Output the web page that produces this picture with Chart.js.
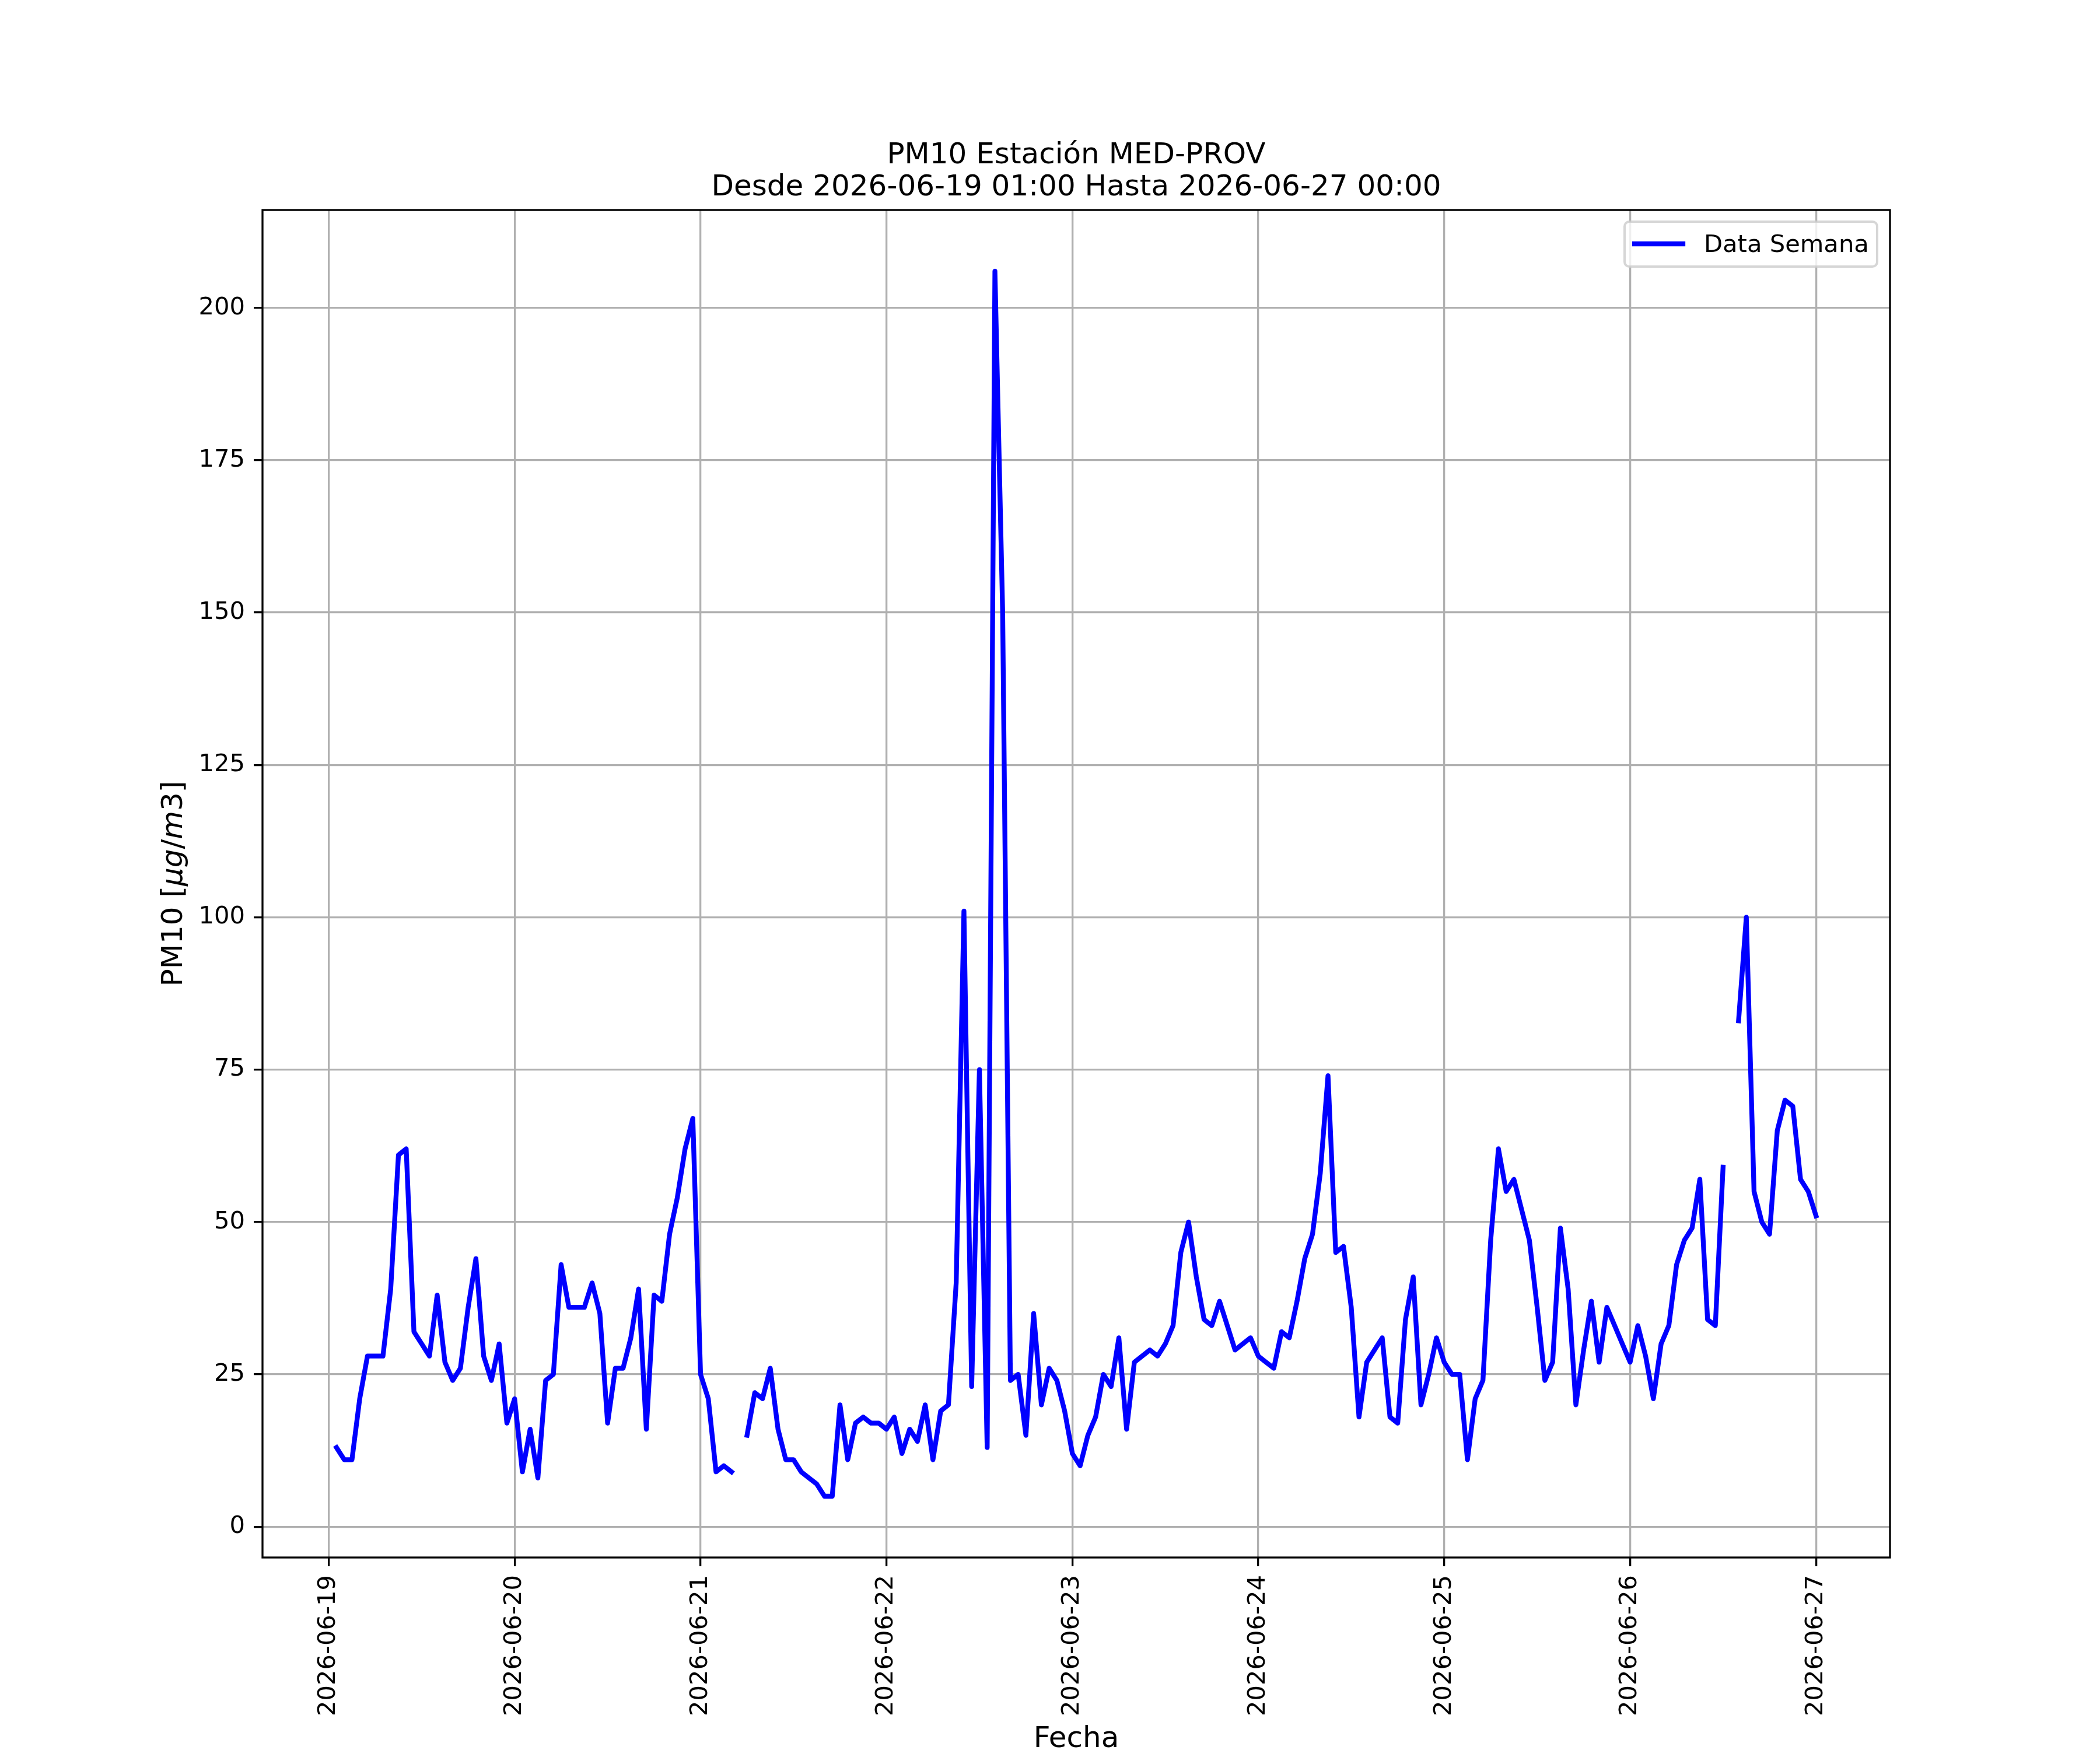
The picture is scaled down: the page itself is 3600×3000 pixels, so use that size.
<!DOCTYPE html>
<html>
<head>
<meta charset="utf-8">
<script src="https://cdn.jsdelivr.net/npm/chart.js@4.4.1/dist/chart.umd.min.js"></script>
<style>
  body { margin: 0; background: #ffffff; }
  canvas { display: block; }
</style>
</head>
<body>
<canvas id="grafico" width="3600" height="3000"></canvas>
<script>
// textos
const titulo = ["PM10 Estación MED-PROV", "Desde 2026-06-19 01:00 Hasta 2026-06-27 00:00"];
const etiquetaX = "Fecha";
const etiquetaSerie = "Data Semana";

// ticks del eje x (horas desde 2026-06-19 00:00) y sus fechas
const horasTicks = [0, 24, 48, 72, 96, 120, 144, 168, 192];
const fechas = ["2026-06-19", "2026-06-20", "2026-06-21", "2026-06-22", "2026-06-23",
  "2026-06-24", "2026-06-25", "2026-06-26", "2026-06-27"];
const ticksY = [0, 25, 50, 75, 100, 125, 150, 175, 200];

// PM10 horario, cada arreglo va de la 01:00 de un dia a las 00:00 del siguiente
const pm10Dia19 = [13, 11, 11, 21, 28, 28, 28, 39, 61, 62, 32, 30, 28, 38, 27, 24, 26, 36, 44, 28, 24, 30, 17, 21];
const pm10Dia20 = [9, 16, 8, 24, 25, 43, 36, 36, 36, 40, 35, 17, 26, 26, 31, 39, 16, 38, 37, 48, 54, 62, 67, 25];
const pm10Dia21 = [21, 9, 10, 9, null, 15, 22, 21, 26, 16, 11, 11, 9, 8, 7, 5, 5, 20, 11, 17, 18, 17, 17, 16];
const pm10Dia22 = [18, 12, 16, 14, 20, 11, 19, 20, 40, 101, 23, 75, 13, 206, 150, 24, 25, 15, 35, 20, 26, 24, 19, 12];
const pm10Dia23 = [10, 15, 18, 25, 23, 31, 16, 27, 28, 29, 28, 30, 33, 45, 50, 41, 34, 33, 37, 33, 29, 30, 31, 28];
const pm10Dia24 = [27, 26, 32, 31, 37, 44, 48, 58, 74, 45, 46, 36, 18, 27, 29, 31, 18, 17, 34, 41, 20, 25, 31, 27];
const pm10Dia25 = [25, 25, 11, 21, 24, 47, 62, 55, 57, 52, 47, 36, 24, 27, 49, 39, 20, 29, 37, 27, 36, 33, 30, 27];
const pm10Dia26 = [33, 28, 21, 30, 33, 43, 47, 49, 57, 34, 33, 59, null, 83, 100, 55, 50, 48, 65, 70, 69, 57, 55, 51];

const dias = [pm10Dia19, pm10Dia20, pm10Dia21, pm10Dia22, pm10Dia23, pm10Dia24, pm10Dia25, pm10Dia26];
const puntos = [];
dias.forEach((dia, d) => {
  dia.forEach((valor, h) => {
    puntos.push({ x: d * 24 + h + 1, y: valor });
  });
});

const AZUL = "#0000ff";
const FUENTE = "DejaVu Sans";

// marco, titulo, etiquetas y leyenda al estilo matplotlib
const adornos = {
  id: "adornos",
  afterDraw(chart) {
    const ctx = chart.ctx;
    const a = chart.chartArea;
    const cx = (a.left + a.right) / 2;
    ctx.save();

    ctx.strokeStyle = "#000000";
    ctx.lineWidth = 3.3;
    ctx.strokeRect(a.left, a.top, a.right - a.left, a.bottom - a.top);

    ctx.fillStyle = "#000000";
    ctx.textBaseline = "alphabetic";
    ctx.textAlign = "center";
    ctx.font = `50px "${FUENTE}"`;
    ctx.fillText(titulo[0], cx, a.top - 80);
    ctx.fillText(titulo[1], cx, a.top - 25);
    ctx.fillText(etiquetaX, cx, a.bottom + 325);

    // PM10 [$\mu g/m3$]
    const partes = [
      ["PM10 [", false], ["μg", true], ["/", false], ["m", true], ["3", false], ["]", false],
    ];
    const normal = `50px "${FUENTE}"`;
    const italica = `italic 50px "${FUENTE}"`;
    let total = 0;
    partes.forEach(([t, it]) => { ctx.font = it ? italica : normal; total += ctx.measureText(t).width; });
    ctx.translate(312, (a.top + a.bottom) / 2);
    ctx.rotate(-Math.PI / 2);
    ctx.textAlign = "left";
    let px = -total / 2;
    partes.forEach(([t, it]) => {
      ctx.font = it ? italica : normal;
      ctx.fillText(t, px, 0);
      px += ctx.measureText(t).width;
    });
    ctx.setTransform(1, 0, 0, 1, 0, 0);

    // leyenda
    const lx = a.right - 455, ly = a.top + 20;
    ctx.beginPath();
    ctx.roundRect(lx, ly, 433, 77, 8);
    ctx.fillStyle = "rgba(255,255,255,0.8)";
    ctx.fill();
    ctx.strokeStyle = "rgba(204,204,204,0.8)";
    ctx.lineWidth = 4;
    ctx.stroke();

    ctx.beginPath();
    ctx.moveTo(lx + 17, ly + 38);
    ctx.lineTo(lx + 100, ly + 38);
    ctx.strokeStyle = AZUL;
    ctx.lineWidth = 8.3;
    ctx.lineCap = "square";
    ctx.stroke();

    ctx.fillStyle = "#000000";
    ctx.font = `41.67px "${FUENTE}"`;
    ctx.textAlign = "left";
    ctx.fillText(etiquetaSerie, lx + 136, ly + 52);

    ctx.restore();
  },
};

new Chart(document.getElementById("grafico"), {
  type: "line",
  data: {
    datasets: [
      {
        label: etiquetaSerie,
        data: puntos,
        borderColor: AZUL,
        backgroundColor: AZUL,
        borderWidth: 8.3,
        pointRadius: 0,
        tension: 0,
        spanGaps: false,
        borderJoinStyle: "round",
        borderCapStyle: "square",
      },
    ],
  },
  options: {
    responsive: false,
    devicePixelRatio: 1,
    animation: false,
    layout: {
      autoPadding: false,
      padding: { left: 0, top: 360, right: 360, bottom: 0 },
    },
    plugins: {
      legend: { display: false },
      title: { display: false },
      tooltip: { enabled: false },
    },
    scales: {
      x: {
        type: "linear",
        min: -8.55,
        max: 201.55,
        afterBuildTicks: (scale) => {
          scale.ticks = horasTicks.map((v) => ({ value: v }));
        },
        afterFit: (scale) => {
          scale.height = 330;
        },
        border: { display: false },
        grid: {
          color: "#b0b0b0",
          lineWidth: 3.3,
          drawTicks: true,
          tickLength: 15,
          tickColor: "#000000",
          tickWidth: 3.3,
        },
        ticks: {
          autoSkip: false,
          minRotation: 90,
          maxRotation: 90,
          padding: 15,
          color: "#000000",
          font: { family: FUENTE, size: 41.67 },
          callback: (v) => fechas[horasTicks.indexOf(v)],
        },
      },
      y: {
        type: "linear",
        min: -5.05,
        max: 216.05,
        afterBuildTicks: (scale) => {
          scale.ticks = ticksY.map((v) => ({ value: v }));
        },
        afterFit: (scale) => {
          scale.width = 450;
        },
        border: { display: false },
        grid: {
          color: "#b0b0b0",
          lineWidth: 3.3,
          drawTicks: true,
          tickLength: 15,
          tickColor: "#000000",
          tickWidth: 3.3,
        },
        ticks: {
          padding: 15,
          color: "#000000",
          font: { family: FUENTE, size: 41.67 },
        },
      },
    },
  },
  plugins: [adornos],
});
</script>
</body>
</html>
